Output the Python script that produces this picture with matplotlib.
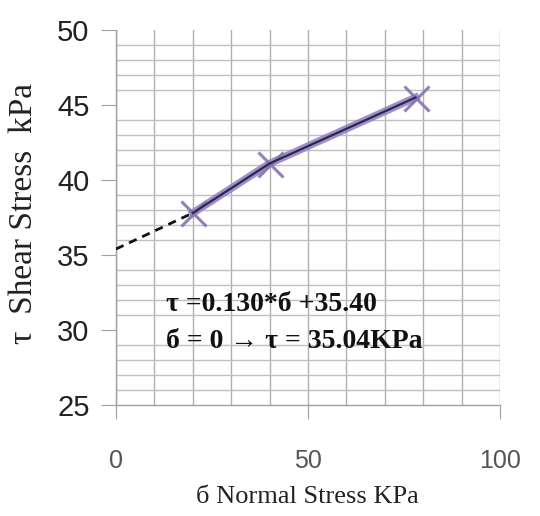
import matplotlib
matplotlib.use("Agg")
import matplotlib.pyplot as plt
from matplotlib.ticker import MultipleLocator, FixedLocator

# Data
normal_stress = [20, 40, 78]
shear_stress = [37.8, 41.1, 45.5]
extrap_x = [0, 20]
extrap_y = [35.4, 37.8]
x_ticks = [0, 50, 100]
y_ticks = [25, 30, 35, 40, 45, 50]
eq_line1 = "τ =0.130*б +35.40"
eq_line2 = "б = 0 → τ = 35.04KPa"

fig = plt.figure(figsize=(5.4, 5.16), dpi=100)
ax = fig.add_axes([116/540, 1-405/516, (500-116)/540, (405-30)/516])

ax.set_xlim(0, 100)
ax.set_ylim(25, 50)
ax.set_xticks(x_ticks)
ax.set_yticks(y_ticks)
ax.xaxis.set_minor_locator(MultipleLocator(10))
ax.yaxis.set_minor_locator(FixedLocator(list(range(26, 50))))

ax.grid(True, which="both", axis="x", color="#b0b0b0", lw=1.0)
ax.grid(True, which="minor", axis="y", color="#c0c0c0", lw=1.0)
ax.set_axisbelow(True)

for s in ["top", "right"]:
    ax.spines[s].set_visible(False)
for s in ["left", "bottom"]:
    ax.spines[s].set_color("#a0a0a0")
    ax.spines[s].set_linewidth(1.0)

ax.tick_params(axis="y", which="major", length=11, color="#a0a0a0", pad=8,
               labelsize=21, labelcolor="#222222")
ax.tick_params(axis="x", which="major", length=10, color="#a0a0a0", pad=22,
               labelsize=18, labelcolor="#555555")
ax.tick_params(which="minor", length=0)
for lab in ax.get_xticklabels() + ax.get_yticklabels():
    lab.set_fontfamily("Liberation Sans")

ax.plot(extrap_x, extrap_y, ls=(0, (3, 2.2)), color="#111111", lw=2.0, zorder=3)
ax.plot(normal_stress, shear_stress, color="#9484c4", lw=5.5, zorder=4, alpha=0.9,
        marker="x", markersize=18, markeredgewidth=2.2, markeredgecolor="#8474b0")
ax.plot(normal_stress, shear_stress, color="#2e2550", lw=1.6, zorder=5)

ax.text(13, 31.7, eq_line1, family="Liberation Serif", weight="bold",
        fontsize=20, color="#111111", va="center", ha="left")
ax.text(13, 29.2, eq_line2, family="Liberation Serif", weight="bold",
        fontsize=20, color="#111111", va="center", ha="left")

fig.text(307/540, 1-497/516, "б Normal Stress KPa", family="Liberation Serif",
         fontsize=19, ha="center", va="center", color="#222222")
fig.text(24/540, 1-213/516, "τ  Shear Stress  kPa", family="Liberation Serif",
         fontsize=24, ha="center", va="center", rotation=90, color="#222222")

fig.savefig("out.png", dpi=100)
